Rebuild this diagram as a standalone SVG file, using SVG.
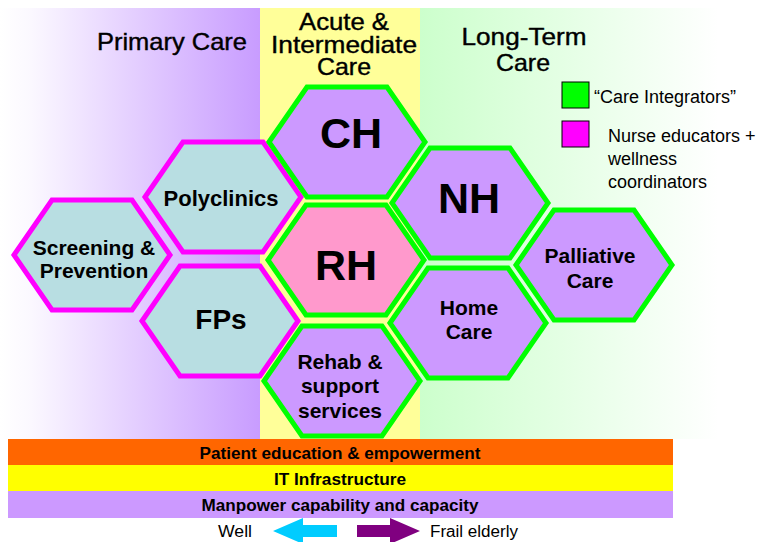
<svg xmlns="http://www.w3.org/2000/svg" xmlns:xlink="http://www.w3.org/1999/xlink" width="771" height="542" viewBox="0 0 771 542">
<style>
.hdr{font-family:"Liberation Sans",Arial,sans-serif;font-size:24px;fill:#000;stroke:#000;stroke-width:0.4;text-anchor:middle}
.hb{font-family:"Liberation Sans",Arial,sans-serif;font-weight:bold;fill:#000;text-anchor:middle}
.lg{font-family:"Liberation Sans",Arial,sans-serif;font-size:18px;fill:#000}
.bar{font-family:"Liberation Sans",Arial,sans-serif;font-weight:bold;font-size:16px;fill:#000;text-anchor:middle}
.ar{font-family:"Liberation Sans",Arial,sans-serif;font-size:16px;fill:#000}
.g{fill:#cc99ff;stroke:#00ff00;stroke-width:5;stroke-linejoin:miter}
.m{fill:#b8dee2;stroke:#ff00ff;stroke-width:5;stroke-linejoin:miter}
.p{fill:#ff99cc;stroke:#00ff00;stroke-width:5;stroke-linejoin:miter}
</style>
<defs>
<linearGradient id="gl" x1="0" y1="0" x2="1" y2="0">
<stop offset="0" stop-color="#ffffff"/>
<stop offset="0.12" stop-color="#fbf8ff"/>
<stop offset="1" stop-color="#c89cff"/>
</linearGradient>
<linearGradient id="gr" x1="0" y1="0" x2="1" y2="0">
<stop offset="0" stop-color="#ccffcc"/>
<stop offset="0.85" stop-color="#ffffff"/>
<stop offset="1" stop-color="#ffffff"/>
</linearGradient>
<polygon id="hex" points="-78,0 -40,-55 40,-55 78,0 40,55 -40,55"/>
</defs>
<rect width="771" height="542" fill="#ffffff"/>
<g id="background">
<rect x="0" y="8" width="260" height="431" fill="url(#gl)"/>
<rect x="260" y="8" width="160" height="431" fill="#ffff99"/>
<rect x="420" y="8" width="351" height="431" fill="url(#gr)"/>
</g>
<g id="headers">
<text class="hdr" x="172" y="50" textLength="150" lengthAdjust="spacingAndGlyphs">Primary Care</text>
<text class="hdr" x="344" y="30" textLength="90" lengthAdjust="spacingAndGlyphs">Acute &amp;</text>
<text class="hdr" x="344" y="53" textLength="146" lengthAdjust="spacingAndGlyphs">Intermediate</text>
<text class="hdr" x="344" y="75" textLength="54" lengthAdjust="spacingAndGlyphs">Care</text>
<text class="hdr" x="524" y="45" textLength="125" lengthAdjust="spacingAndGlyphs">Long-Term</text>
<text class="hdr" x="523" y="71" textLength="54" lengthAdjust="spacingAndGlyphs">Care</text>
</g>
<g id="legend">
<rect x="562" y="82" width="27" height="26" fill="#00ff00" stroke="#000" stroke-width="1"/>
<text class="lg" x="594" y="103">“Care Integrators”</text>
<rect x="562" y="121" width="27" height="26" fill="#ff00ff" stroke="#000" stroke-width="1"/>
<text class="lg" x="608" y="142">Nurse educators +</text>
<text class="lg" x="608" y="165">wellness</text>
<text class="lg" x="608" y="188">coordinators</text>
</g>
<g id="connectors"></g>
<g id="screening" transform="translate(92,255)">
<use xlink:href="#hex" class="m"/>
<text class="hb" x="2" y="0" font-size="21">Screening &amp;</text>
<text class="hb" x="2" y="23" font-size="21">Prevention</text>
</g>
<g id="polyclinics" transform="translate(223,197)">
<use xlink:href="#hex" class="m"/>
<text class="hb" x="-2" y="9" font-size="22">Polyclinics</text>
</g>
<g id="fps" transform="translate(220,321)">
<use xlink:href="#hex" class="m"/>
<text class="hb" x="1" y="8" font-size="28">FPs</text>
</g>
<g id="ch" transform="translate(347,142)">
<use xlink:href="#hex" class="g"/>
<text class="hb" x="4" y="6" font-size="43">CH</text>
</g>
<g id="rh" transform="translate(346,260)">
<use xlink:href="#hex" class="p"/>
<text class="hb" x="0" y="20" font-size="43">RH</text>
</g>
<g id="rehab" transform="translate(342,381)">
<use xlink:href="#hex" class="g"/>
<text class="hb" x="-2" y="-12" font-size="21">Rehab &amp;</text>
<text class="hb" x="-2" y="12" font-size="21">support</text>
<text class="hb" x="-2" y="37" font-size="21">services</text>
</g>
<g id="nh" transform="translate(470,203)">
<use xlink:href="#hex" class="g"/>
<text class="hb" x="-1" y="10" font-size="43">NH</text>
</g>
<g id="homecare" transform="translate(468,323)">
<use xlink:href="#hex" class="g"/>
<text class="hb" x="1" y="-8" font-size="21">Home</text>
<text class="hb" x="1" y="16" font-size="21">Care</text>
</g>
<g id="palliative" transform="translate(594,265)">
<use xlink:href="#hex" class="g"/>
<text class="hb" x="-4" y="-2" font-size="21">Palliative</text>
<text class="hb" x="-4" y="23" font-size="21">Care</text>
</g>
<g id="bars">
<rect x="8" y="439" width="665" height="26" fill="#ff6600"/>
<rect x="8" y="465" width="665" height="26" fill="#ffff00"/>
<rect x="8" y="491" width="665" height="27" fill="#cc99ff"/>
<text class="bar" x="340" y="459" textLength="281" lengthAdjust="spacingAndGlyphs">Patient education &amp; empowerment</text>
<text class="bar" x="340" y="485" textLength="132" lengthAdjust="spacingAndGlyphs">IT Infrastructure</text>
<text class="bar" x="340" y="511" textLength="277" lengthAdjust="spacingAndGlyphs">Manpower capability and capacity</text>
</g>
<g id="arrows">
<text class="ar" x="218" y="537" textLength="34" lengthAdjust="spacingAndGlyphs">Well</text>
<polygon points="273,531 303,518 303,525 337,525 337,537 303,537 303,544" fill="#00ccff"/>
<polygon points="420,531 390,518 390,525 357,525 357,537 390,537 390,544" fill="#800080"/>
<text class="ar" x="430" y="537" textLength="88" lengthAdjust="spacingAndGlyphs">Frail elderly</text>
</g>
</svg>
